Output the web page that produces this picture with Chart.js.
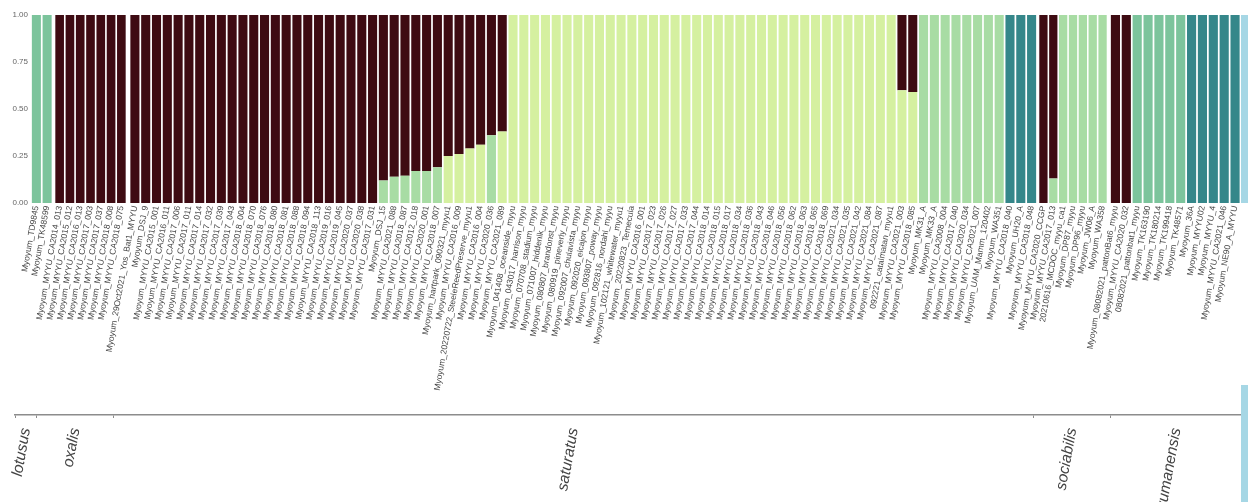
<!DOCTYPE html>
<html>
<head>
<meta charset="utf-8">
<script src="https://cdn.jsdelivr.net/npm/chart.js@4.4.1/dist/chart.umd.min.js"></script>
<style>
  html, body { margin: 0; padding: 0; background: #fff; }
  #wrap { position: relative; width: 1248px; height: 502px; overflow: hidden; }
  #wrap canvas { position: absolute; top: 0; }
  .edge { position: absolute; background: #a6d7e5; }
</style>
</head>
<body>
<div id="wrap"></div>
<script>
// Species groups (facets) and how many samples each holds, in plotting order
const groups = ['lotusus', 'oxalis', 'saturatus', 'sociabilis', 'yumanensis'];
const groupSizes = [2, 7, 84, 7, 12];

// Sample names, in plotting order
const samples = [
  // lotusus
  'Myoyum_TD9845', 'Myoyum_TK48599',
  // oxalis
  'Myoyum_MYYU_CA2014_013', 'Myoyum_MYYU_CA2015_012', 'Myoyum_MYYU_CA2016_013', 'Myoyum_MYYU_CA2017_003',
  'Myoyum_MYYU_CA2017_037', 'Myoyum_MYYU_CA2018_008', 'Myoyum_MYYU_CA2018_075',
  // saturatus
  'Myoyum_29Oct2021_Yos_Bat1_MYYU', 'Myoyum_DSJ_9', 'Myoyum_MYYU_CA2015_001', 'Myoyum_MYYU_CA2016_011',
  'Myoyum_MYYU_CA2017_006', 'Myoyum_MYYU_CA2017_011', 'Myoyum_MYYU_CA2017_014', 'Myoyum_MYYU_CA2017_032',
  'Myoyum_MYYU_CA2017_039', 'Myoyum_MYYU_CA2017_043', 'Myoyum_MYYU_CA2018_004', 'Myoyum_MYYU_CA2018_070',
  'Myoyum_MYYU_CA2018_076', 'Myoyum_MYYU_CA2018_080', 'Myoyum_MYYU_CA2018_081', 'Myoyum_MYYU_CA2018_088',
  'Myoyum_MYYU_CA2018_094', 'Myoyum_MYYU_CA2018_113', 'Myoyum_MYYU_CA2019_016', 'Myoyum_MYYU_CA2019_045',
  'Myoyum_MYYU_CA2020_037', 'Myoyum_MYYU_CA2020_038', 'Myoyum_MYYU_CA2017_031',
  'Myoyum_DSJ_15', 'Myoyum_MYYU_CA2021_088', 'Myoyum_MYYU_CA2018_087', 'Myoyum_MYYU_CA2012_018',
  'Myoyum_MYYU_CA2020_001', 'Myoyum_MYYU_CA2018_007', 'Myoyum_hartpark_090321_myyu1', 'Myoyum_MYYU_CA2016_009',
  'Myoyum_20220722_SteeleReedPreserve_myyu1', 'Myoyum_MYYU_CA2016_004', 'Myoyum_MYYU_CA2020_036', 'Myoyum_MYYU_CA2021_089',
  'Myoyum_041408_oceanside_myyu', 'Myoyum_043017_harrison_myyu', 'Myoyum_070708_stadium_myyu', 'Myoyum_071007_hiddenlk_myyu',
  'Myoyum_080807_brandonst_myyu', 'Myoyum_080919_pineverly_myyu', 'Myoyum_092007_chulavista_myyu', 'Myoyum_092020_elcajon_myyu',
  'Myoyum_093807_poway_myyu', 'Myoyum_092816_nordahl_myyu', 'Myoyum_102121_whitewater_myyu1', 'Myoyum_20220823_Temecula',
  'Myoyum_MYYU_CA2016_001', 'Myoyum_MYYU_CA2017_023', 'Myoyum_MYYU_CA2017_026', 'Myoyum_MYYU_CA2017_027',
  'Myoyum_MYYU_CA2017_033', 'Myoyum_MYYU_CA2017_044', 'Myoyum_MYYU_CA2018_014', 'Myoyum_MYYU_CA2018_015',
  'Myoyum_MYYU_CA2018_017', 'Myoyum_MYYU_CA2018_034', 'Myoyum_MYYU_CA2018_036', 'Myoyum_MYYU_CA2018_043',
  'Myoyum_MYYU_CA2018_046', 'Myoyum_MYYU_CA2018_056', 'Myoyum_MYYU_CA2018_062', 'Myoyum_MYYU_CA2018_063',
  'Myoyum_MYYU_CA2018_065', 'Myoyum_MYYU_CA2018_069', 'Myoyum_MYYU_CA2021_034', 'Myoyum_MYYU_CA2021_035',
  'Myoyum_MYYU_CA2021_042', 'Myoyum_MYYU_CA2021_084', 'Myoyum_MYYU_CA2021_087', '092221_catalmatan_myyu1',
  'Myoyum_MYYU_CA2021_003', 'Myoyum_MYYU_CA2018_085',
  'Myoyum_MK31_A', 'Myoyum_MK33_A', 'Myoyum_MYYU_CA2008_004', 'Myoyum_MYYU_CA2017_040',
  'Myoyum_MYYU_CA2020_034', 'Myoyum_MYYU_CA2021_007', 'Myoyum_UAM_Mamm_120402', 'Myoyum_WA351',
  'Myoyum_MYYU_CA2018_040', 'Myoyum_UH20_A', 'Myoyum_MYYU_CA2018_048',
  // sociabilis
  'Myoyum_MYYU_CA2020_CCGP', 'Myoyum_MYYU_CA2017_013', '20210616_MCDOC_myyu_ca1', 'Myoyum_DP87_myyu',
  'Myoyum_DP96_myyu', 'Myoyum_JW06_A', 'Myoyum_WA358',
  // yumanensis
  'Myoyum_08082021_pattonBat6_myyu', 'Myoyum_MYYU_CA2020_032', '08082021_pattonbat1_myyu', 'Myoyum_TK163190',
  'Myoyum_TK180214', 'Myoyum_TK199418', 'Myoyum_TK48571', 'Myoyum_36A',
  'Myoyum_MYYU02', 'Myoyum_MYYU_4', 'Myoyum_MYYU_CA2021_046', 'Myoyum_NE90_A_MYYU'
];

// Ancestry proportions per cluster (one value per sample, same order as samples)
const clusterYellowGreen = [
  0, 0,
  0, 0, 0, 0, 0, 0, 0,
  0, 0, 0, 0, 0, 0, 0, 0, 0, 0, 0, 0, 0, 0, 0, 0, 0, 0, 0, 0, 0, 0, 0,
  0, 0, 0, 0, 0, 0, 0.25, 0.26, 0.29, 0.31, 0, 0.38,
  1, 1, 1, 1, 1, 1, 1, 1, 1, 1, 1, 1,
  1, 1, 1, 1, 1, 1, 1, 1, 1, 1, 1, 1,
  1, 1, 1, 1, 1, 1, 1, 1, 1, 1, 1, 1,
  0.60, 0.59,
  0, 0, 0, 0, 0, 0, 0, 0, 0, 0, 0,
  0, 0, 0, 0, 0, 0, 0,
  0, 0, 0, 0, 0, 0, 0, 0, 0, 0, 0, 0
];
const clusterPaleGreen = [
  0, 0,
  0, 0, 0, 0, 0, 0, 0,
  0, 0, 0, 0, 0, 0, 0, 0, 0, 0, 0, 0, 0, 0, 0, 0, 0, 0, 0, 0, 0, 0, 0,
  0.12, 0.14, 0.145, 0.17, 0.17, 0.19, 0, 0, 0, 0, 0.36, 0,
  0, 0, 0, 0, 0, 0, 0, 0, 0, 0, 0, 0,
  0, 0, 0, 0, 0, 0, 0, 0, 0, 0, 0, 0,
  0, 0, 0, 0, 0, 0, 0, 0, 0, 0, 0, 0,
  0, 0,
  1, 1, 1, 1, 1, 1, 1, 1, 0, 0, 0,
  0, 0.13, 1, 1, 1, 1, 1,
  0, 0, 0, 0, 0, 0, 0, 0, 0, 0, 0, 0
];
const clusterGreen = [
  1, 1,
  0, 0, 0, 0, 0, 0, 0,
  0, 0, 0, 0, 0, 0, 0, 0, 0, 0, 0, 0, 0, 0, 0, 0, 0, 0, 0, 0, 0, 0, 0,
  0, 0, 0, 0, 0, 0, 0, 0, 0, 0, 0, 0,
  0, 0, 0, 0, 0, 0, 0, 0, 0, 0, 0, 0,
  0, 0, 0, 0, 0, 0, 0, 0, 0, 0, 0, 0,
  0, 0, 0, 0, 0, 0, 0, 0, 0, 0, 0, 0,
  0, 0,
  0, 0, 0, 0, 0, 0, 0, 0, 0, 0, 0,
  0, 0, 0, 0, 0, 0, 0,
  0, 0, 1, 1, 1, 1, 1, 0, 0, 0, 0, 0
];
const clusterTeal = [
  0, 0,
  0, 0, 0, 0, 0, 0, 0,
  0, 0, 0, 0, 0, 0, 0, 0, 0, 0, 0, 0, 0, 0, 0, 0, 0, 0, 0, 0, 0, 0, 0,
  0, 0, 0, 0, 0, 0, 0, 0, 0, 0, 0, 0,
  0, 0, 0, 0, 0, 0, 0, 0, 0, 0, 0, 0,
  0, 0, 0, 0, 0, 0, 0, 0, 0, 0, 0, 0,
  0, 0, 0, 0, 0, 0, 0, 0, 0, 0, 0, 0,
  0, 0,
  0, 0, 0, 0, 0, 0, 0, 0, 1, 1, 1,
  0, 0, 0, 0, 0, 0, 0,
  0, 0, 0, 0, 0, 0, 0, 1, 1, 1, 1, 1
];
const clusterDark = [
  0, 0,
  1, 1, 1, 1, 1, 1, 1,
  1, 1, 1, 1, 1, 1, 1, 1, 1, 1, 1, 1, 1, 1, 1, 1, 1, 1, 1, 1, 1, 1, 1,
  0.88, 0.86, 0.855, 0.83, 0.83, 0.81, 0.75, 0.74, 0.71, 0.69, 0.64, 0.62,
  0, 0, 0, 0, 0, 0, 0, 0, 0, 0, 0, 0,
  0, 0, 0, 0, 0, 0, 0, 0, 0, 0, 0, 0,
  0, 0, 0, 0, 0, 0, 0, 0, 0, 0, 0, 0,
  0.40, 0.41,
  0, 0, 0, 0, 0, 0, 0, 0, 0, 0, 0,
  1, 0.87, 0, 0, 0, 0, 0,
  1, 1, 0, 0, 0, 0, 0, 0, 0, 0, 0, 0
];

// Y axis tick values
const yTicks = [0, 0.25, 0.5, 0.75, 1];

// Stack order: first entry sits at the bottom of each bar
const clusters = [
  { name: 'K1', values: clusterYellowGreen, color: '#d5f0a0' },
  { name: 'K2', values: clusterPaleGreen,   color: '#a8dca4' },
  { name: 'K3', values: clusterGreen,       color: '#7cc49c' },
  { name: 'K4', values: clusterTeal,        color: '#35878a' },
  { name: 'K5', values: clusterDark,        color: '#3e0b12' }
];

// ---- layout ----
const FONT = '"Liberation Sans", Arial, sans-serif';
const TOP_H = 400;          // height of the bar panels incl. sample labels
const PLOT_TOP = 15;        // y of 1.00
const PLOT_BOTTOM = 203;    // y of 0.00
const SIDE_PAD = 60;        // room for labels that spill past a panel edge
// horizontal extent of each facet's plotting area
const facetSpans = [[31, 52.5], [54.5, 126.5], [129.5, 1037], [1038.5, 1107.5], [1110, 1240.5]];

const wrap = document.getElementById('wrap');

function addCanvas(left, top, w, h) {
  const c = document.createElement('canvas');
  c.width = w; c.height = h;
  c.style.left = left + 'px'; c.style.top = top + 'px';
  c.style.width = w + 'px'; c.style.height = h + 'px';
  wrap.appendChild(c);
  return c;
}

let offset = 0;
groups.forEach((g, gi) => {
  const n = groupSizes[gi];
  const idx = [offset, offset + n];
  offset += n;
  const [x0, x1] = facetSpans[gi];
  const first = gi === 0;
  const left = first ? 0 : Math.floor(x0) - SIDE_PAD;
  const width = Math.ceil(x1) + SIDE_PAD - left;
  const cv = addCanvas(left, 0, width, TOP_H);

  new Chart(cv, {
    type: 'bar',
    data: {
      labels: samples.slice(idx[0], idx[1]),
      datasets: clusters.map(c => ({
        label: c.name,
        data: c.values.slice(idx[0], idx[1]),
        backgroundColor: c.color,
        borderWidth: 0,
        barPercentage: 0.84,
        categoryPercentage: 1
      }))
    },
    options: {
      responsive: false,
      animation: false,
      devicePixelRatio: 1,
      layout: { padding: { left: first ? 0 : x0 - left, right: width - (x1 - left), top: PLOT_TOP, bottom: 0 } },
      plugins: { legend: { display: false }, tooltip: { enabled: false } },
      scales: {
        x: {
          stacked: true,
          grid: { display: false, drawTicks: false },
          border: { display: false },
          ticks: {
            autoSkip: false, minRotation: 80, maxRotation: 80, padding: 2,
            color: '#444', font: { family: FONT, size: 8.5 }
          },
          afterFit: s => { s.height = TOP_H - PLOT_BOTTOM; s.paddingLeft = 0; s.paddingRight = 0; }
        },
        y: {
          display: first,
          stacked: true,
          min: 0, max: 1,
          afterBuildTicks: s => { s.ticks = yTicks.map(v => ({ value: v })); },
          afterFit: s => { s.width = first ? x0 : 0; },
          grid: { display: false, drawTicks: false },
          border: { display: false },
          ticks: {
            padding: 3, color: '#666',
            font: { family: FONT, size: 8 },
            callback: v => Number(v).toFixed(2)
          }
        }
      }
    }
  });
});

// ---- group strip: one axis spanning all samples, split at group boundaries ----
const boundaries = [0];
groupSizes.forEach(n => boundaries.push(boundaries[boundaries.length - 1] + n));
const total = boundaries[boundaries.length - 1];

const groupLabels = {
  id: 'groupLabels',
  afterDraw(chart) {
    const xs = chart.scales.x;
    const ctx = chart.ctx;
    ctx.save();
    ctx.font = 'italic 15.5px ' + FONT;
    ctx.fillStyle = '#444';
    ctx.textAlign = 'right';
    ctx.textBaseline = 'middle';
    groups.forEach((g, i) => {
      const mid = (boundaries[i] + boundaries[i + 1]) / 2;
      ctx.save();
      ctx.translate(xs.getPixelForValue(mid), xs.top + 13);
      ctx.rotate(-80 * Math.PI / 180);
      ctx.fillText(g, 0, 0);
      ctx.restore();
    });
    ctx.restore();
  }
};

const STRIP_TOP = 395;
const sc = addCanvas(0, STRIP_TOP, 1248, 502 - STRIP_TOP);
new Chart(sc, {
  type: 'scatter',
  data: { datasets: [{ data: [] }] },
  options: {
    responsive: false,
    animation: false,
    devicePixelRatio: 1,
    layout: { padding: { left: 15, right: 6, top: 0, bottom: 0 } },
    plugins: { legend: { display: false }, tooltip: { enabled: false } },
    scales: {
      x: {
        type: 'linear', min: 0, max: total,
        afterBuildTicks: s => { s.ticks = boundaries.map(v => ({ value: v })); },
        afterFit: s => { s.height = 502 - 415; s.paddingLeft = 0; s.paddingRight = 0; },
        grid: { drawOnChartArea: false, drawTicks: true, tickLength: 3, color: '#8c8c8c', lineWidth: 1 },
        border: { display: true, color: '#8c8c8c', width: 1.5 },
        ticks: { display: false }
      },
      y: { display: false }
    }
  },
  plugins: [groupLabels]
});

// neighbouring panel edges visible at the right border
const e1 = document.createElement('div');
e1.className = 'edge';
e1.style.cssText = 'left:1241px;top:15px;width:7px;height:188px;';
wrap.appendChild(e1);
const e2 = document.createElement('div');
e2.className = 'edge';
e2.style.cssText = 'left:1241px;top:385px;width:7px;height:117px;';
wrap.appendChild(e2);
</script>
</body>
</html>
